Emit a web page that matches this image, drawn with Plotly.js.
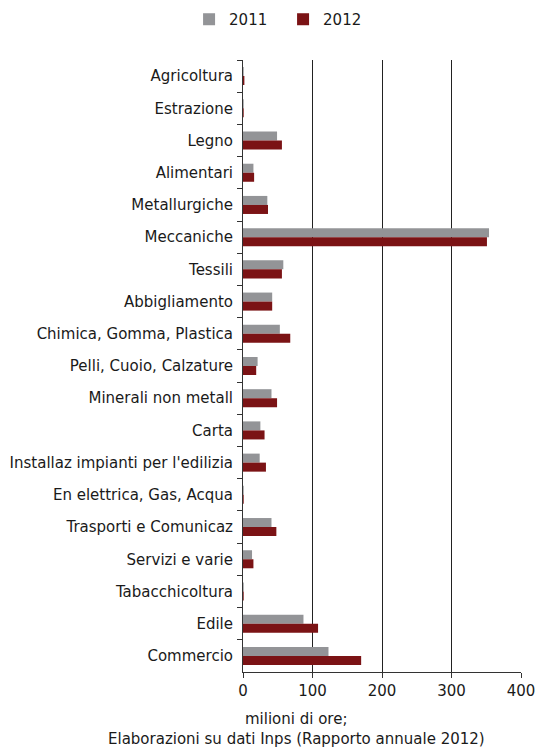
<!DOCTYPE html>
<html><head><meta charset="utf-8">
<script src="https://cdn.plot.ly/plotly-3.0.1.min.js"></script>
<style>body{margin:0;padding:0;background:#fff}#chart{width:537px;height:747px}</style>
</head><body><div id="chart"></div>
<script>
const categories = ["Agricoltura","Estrazione","Legno","Alimentari","Metallurgiche","Meccaniche","Tessili","Abbigliamento","Chimica, Gomma, Plastica","Pelli, Cuoio, Calzature","Minerali non metall","Carta","Installaz impianti per l'edilizia","En elettrica, Gas, Acqua","Trasporti e Comunicaz","Servizi e varie","Tabacchicoltura","Edile","Commercio"];
const values2011 = [1,1,49,15,35,354,58,42,53,21,41,25,24,1,41,13,1,87,123];
const values2012 = [2,1,56,16,36,351,56,42,68,19,49,31,33,1,48,15,1,108,170];
const xTicks = [0,100,200,300,400];
const font = "DejaVu Sans, Verdana, sans-serif";
const traces = [
  {type:"bar", orientation:"h", name:"2011", y:categories, x:values2011, marker:{color:"#939497"}},
  {type:"bar", orientation:"h", name:"2012", y:categories, x:values2012, marker:{color:"#7B1315"}}
];
const layout = {
  width:537, height:747,
  margin:{l:243, r:16, t:60, b:75, pad:0},
  paper_bgcolor:"#fff", plot_bgcolor:"#fff",
  font:{family:font, size:15, color:"#1a1a1a"},
  barmode:"group", bargap:0.44, bargroupgap:0,
  showlegend:true,
  legend:{orientation:"h", x:-0.194, xanchor:"left", y:0.996, yref:"container", yanchor:"top", font:{size:15}, traceorder:"normal", entrywidth:49, itemwidth:30},
  xaxis:{range:[0,400], tickvals:xTicks, ticks:"outside", ticklen:5, tickcolor:"#333", showgrid:true, gridcolor:"#222", gridwidth:1, showline:true, linecolor:"#333", zeroline:false, fixedrange:true},
  yaxis:{type:"category", autorange:"reversed", tickson:"boundaries", ticks:"outside", ticklen:5, tickcolor:"#333", showline:true, linecolor:"#333", showgrid:false, ticklabelstandoff:6},
  annotations:[
    {text:"milioni di ore;", xref:"paper", yref:"paper", x:(296-243)/278, y:-(719-672)/612, xanchor:"center", yanchor:"middle", showarrow:false, font:{size:15}},
    {text:"Elaborazioni su dati Inps (Rapporto annuale 2012)", xref:"paper", yref:"paper", x:(296-243)/278, y:-(739-672)/612, xanchor:"center", yanchor:"middle", showarrow:false, font:{size:15}}
  ]
};
Plotly.newPlot("chart", traces, layout, {displayModeBar:false, staticPlot:true});
</script></body></html>
